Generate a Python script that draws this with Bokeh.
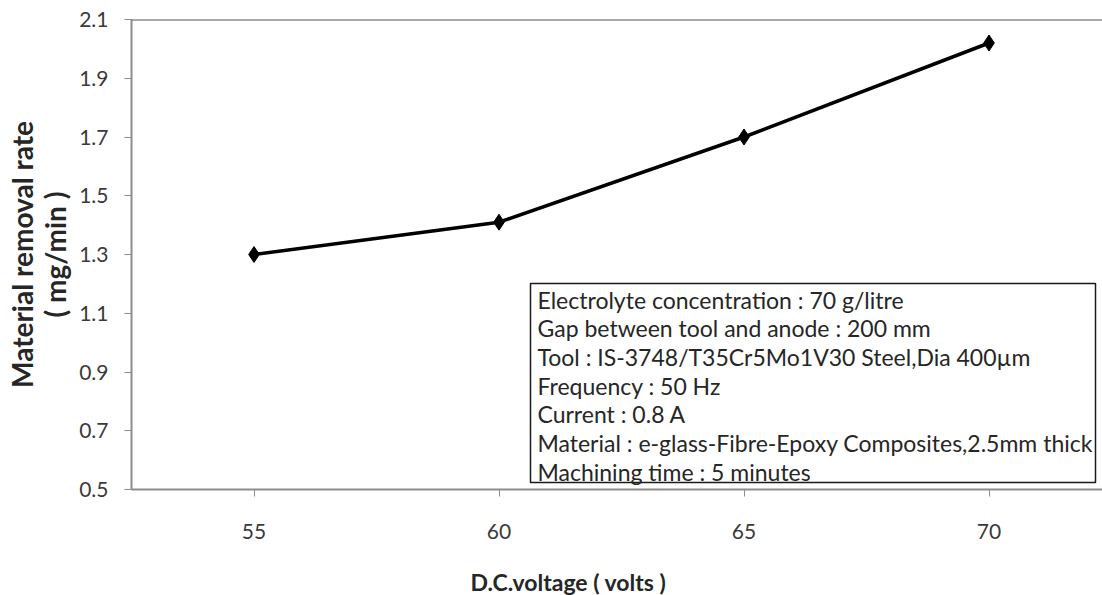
from bokeh.plotting import figure
from bokeh.models import Range1d, FixedTicker, Span, BoxAnnotation, Label, Title, PrintfTickFormatter
from bokeh.embed import file_html
from bokeh.resources import INLINE

# ---- data ----
voltage = [55, 60, 65, 70]
mrr = [1.30, 1.41, 1.70, 2.02]
y_ticks = [0.5, 0.7, 0.9, 1.1, 1.3, 1.5, 1.7, 1.9, 2.1]
x_ticks = [55, 60, 65, 70]
x_title = "D.C.voltage ( volts )"
y_title_lines = ["Material removal rate", "( mg/min )"]
info_lines = [
    "Electrolyte concentration : 70 g/litre",
    "Gap between tool and anode : 200 mm",
    "Tool : IS-3748/T35Cr5Mo1V30 Steel,Dia 400\u00b5m",
    "Frequency : 50 Hz",
    "Current : 0.8 A",
    "Material : e-glass-Fibre-Epoxy Composites,2.5mm thick",
    "Machining time : 5 minutes",
]

FONT = "Lato"
FRAME_W, FRAME_H = 971, 470
PX_PER_X = 49.0
x0 = 52.5
x1 = x0 + FRAME_W / PX_PER_X
y0, y1 = 0.5, 2.1
py = (y1 - y0) / FRAME_H  # data per pixel (y)
px = 1.0 / PX_PER_X        # data per pixel (x)

p = figure(width=1102, height=595, output_backend="svg", toolbar_location=None,
           x_range=Range1d(x0, x1), y_range=Range1d(y0, y1),
           min_border_left=131, min_border_right=0, min_border_top=19, min_border_bottom=106)
p.outline_line_color = None
p.xgrid.visible = False
p.ygrid.visible = False
p.background_fill_color = "white"

# axes
for ax in (p.xaxis[0], p.yaxis[0]):
    ax.axis_line_color = "#8c8c8c"
    ax.axis_line_width = 2
    ax.major_tick_line_color = "#8c8c8c"
    ax.major_tick_line_width = 1
    ax.major_tick_out = 7
    ax.major_tick_in = 0
    ax.minor_tick_line_color = None
    ax.major_label_text_font = FONT
    ax.major_label_text_font_size = "21px"
    ax.major_label_text_color = "#3a3a3a"
p.yaxis.ticker = FixedTicker(ticks=y_ticks)
p.yaxis.formatter = PrintfTickFormatter(format="%.1f")
p.yaxis.major_label_standoff = 16
p.xaxis.ticker = FixedTicker(ticks=x_ticks)
p.xaxis.major_label_standoff = 27
# blank axis label used only as spacing so the title below sits lower
p.xaxis.axis_label = " "
p.xaxis.axis_label_text_font_size = "10px"
p.xaxis.axis_label_standoff = 10
p.xaxis.axis_label_text_alpha = 0

# top border
p.add_layout(Span(location=y1, dimension="width", line_color="#555555", line_width=2))

# series
p.line(voltage, mrr, line_color="black", line_width=3.5)
p.scatter(voltage, mrr, marker="diamond", size=16, fill_color="black", line_color="black")

# info box
box_left_px, box_right_px, box_top_px, box_bot_px = 399, 964, 264, 463  # relative to frame left/top
p.add_layout(BoxAnnotation(left=x0 + box_left_px * px, right=x0 + box_right_px * px,
                           top=y1 - box_top_px * py, bottom=y1 - box_bot_px * py,
                           fill_color="white", fill_alpha=1.0,
                           line_color="#1a1a1a", line_alpha=1.0, line_width=1.5, level="overlay"))
for i, t in enumerate(info_lines):
    p.add_layout(Label(x=x0 + 406 * px, y=y1 - (280 + i * 28.7) * py, text=t,
                       text_font=FONT, text_font_size="23px", text_color="#262626",
                       text_baseline="middle", text_align="left", level="overlay"))

# axis titles
p.add_layout(Title(text=x_title, align="left", offset=339, standoff=0,
                   text_font=FONT, text_font_size="23px", text_font_style="bold",
                   text_color="#262626"), "below")
p.add_layout(Title(text=y_title_lines[1], align="center", standoff=9,
                   text_font=FONT, text_font_size="28px", text_font_style="bold",
                   text_color="#262626"), "left")
p.add_layout(Title(text=y_title_lines[0], align="center", standoff=-15,
                   text_font=FONT, text_font_size="28px", text_font_style="bold",
                   text_color="#262626"), "left")

open("out.html", "w").write(file_html(p, INLINE))
